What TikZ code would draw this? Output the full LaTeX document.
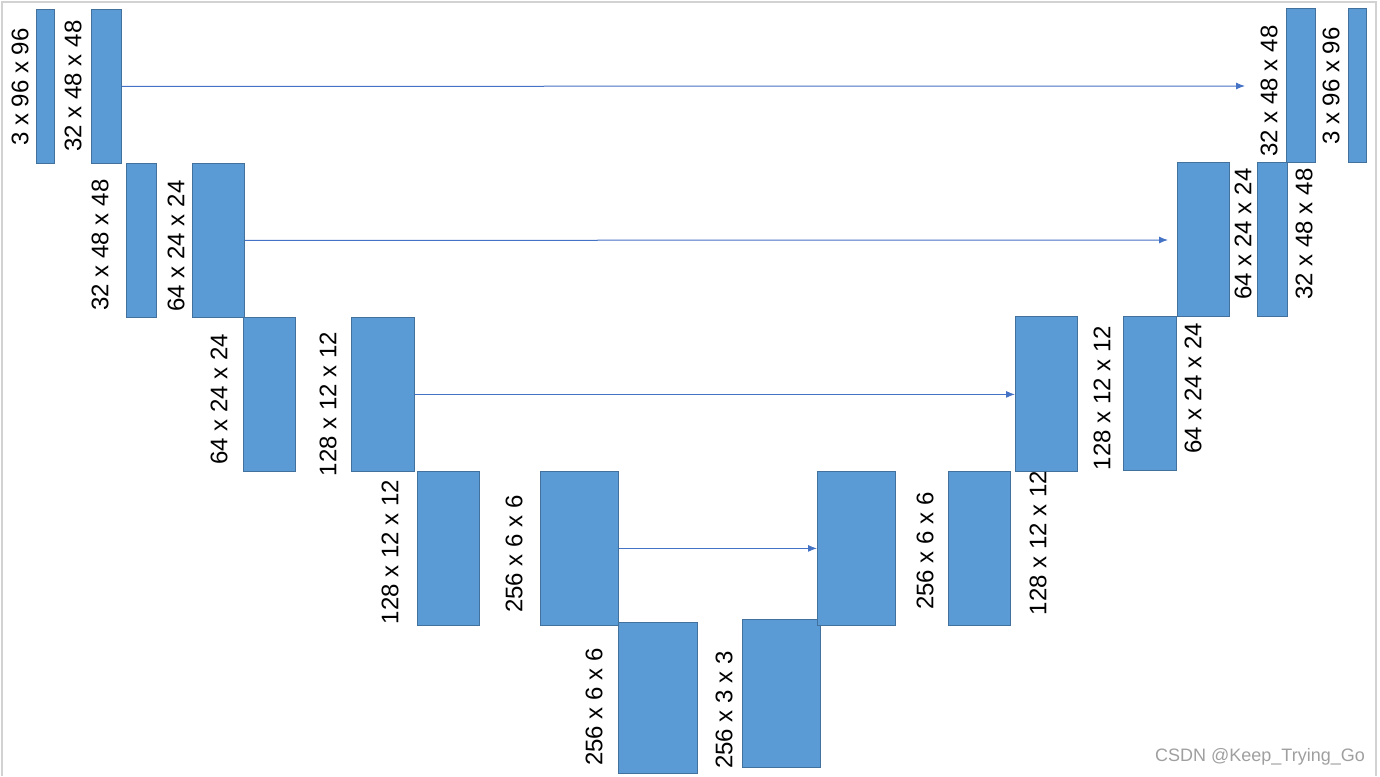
\documentclass[tikz,border=0pt]{standalone}
\usepackage{fontspec}
\setmainfont{Liberation Sans}
\usetikzlibrary{arrows.meta}
\definecolor{mapfill}{HTML}{5B9BD5}
\definecolor{mapedge}{HTML}{41719C}
\definecolor{skipline}{HTML}{4472C4}

\begin{document}
\begin{tikzpicture}[
    % one unit is one pixel of the picture, y grows downwards
    x=1pt, y=-1pt,
    fmap/.style={draw=mapedge, fill=mapfill, line width=0.8pt, inner sep=0pt, anchor=north west},
    dim/.style={rotate=90, inner sep=0pt, font=\fontsize{24}{28}\selectfont},
    skip/.style={draw=skipline, line width=1pt, -{Latex[length=9pt,width=7pt]}}
]
  \useasboundingbox (0,0) rectangle (1380,776);

  % page frame
  \draw[gray!35, line width=1.5pt] (2,776) -- (2,2) -- (1376,2) -- (1376,776);

  % Encoder path
  \node[fmap, minimum width=18pt, minimum height=154pt] (inp) at (36,9) {};
  \node[fmap, minimum width=30pt, minimum height=154pt] (enc1) at (91,9) {};
  \node[fmap, minimum width=30pt, minimum height=154pt] (pool1) at (126,163) {};
  \node[fmap, minimum width=52pt, minimum height=154pt] (enc2) at (192,163) {};
  \node[fmap, minimum width=52pt, minimum height=154pt] (pool2) at (243,317) {};
  \node[fmap, minimum width=63pt, minimum height=154pt] (enc3) at (351,317) {};
  \node[fmap, minimum width=62pt, minimum height=154pt] (pool3) at (417,471) {};
  \node[fmap, minimum width=78pt, minimum height=154pt] (enc4) at (540,471) {};
  \node[fmap, minimum width=79pt, minimum height=151pt] (pool4) at (618,622) {};

  % Bottleneck
  \node[fmap, minimum width=78pt, minimum height=148pt] (bott) at (742,619) {};

  % Decoder path
  \node[fmap, minimum width=78pt, minimum height=154pt] (up4) at (817,471) {};
  \node[fmap, minimum width=62pt, minimum height=154pt] (dec4) at (948,471) {};
  \node[fmap, minimum width=62pt, minimum height=155pt] (up3) at (1015,316) {};
  \node[fmap, minimum width=53pt, minimum height=154pt] (dec3) at (1123,316) {};
  \node[fmap, minimum width=52pt, minimum height=154pt] (up2) at (1177,162) {};
  \node[fmap, minimum width=30pt, minimum height=154pt] (dec2) at (1257,162) {};
  \node[fmap, minimum width=29pt, minimum height=154pt] (up1) at (1286,8) {};
  \node[fmap, minimum width=18pt, minimum height=154pt] (out) at (1348,8) {};

  % Sizes of the feature maps
  \node[dim] (t-inp) at (20,87) {3 x 96 x 96};
  \node[dim] (t-enc1) at (73,86) {32 x 48 x 48};
  \node[dim] (t-pool1) at (100,245) {32 x 48 x 48};
  \node[dim] (t-enc2) at (176,246) {64 x 24 x 24};
  \node[dim] (t-pool2) at (219,399) {64 x 24 x 24};
  \node[dim] (t-enc3) at (328,404) {128 x 12 x 12};
  \node[dim] (t-pool3) at (390,552) {128 x 12 x 12};
  \node[dim] (t-enc4) at (514,554) {256 x 6 x 6};
  \node[dim] (t-pool4) at (594,707) {256 x 6 x 6};
  \node[dim] (t-bott) at (724,710) {256 x 3 x 3};
  \node[dim] (t-up4) at (925,551) {256 x 6 x 6};
  \node[dim] (t-dec4) at (1038,543) {128 x 12 x 12};
  \node[dim] (t-up3) at (1102,398) {128 x 12 x 12};
  \node[dim] (t-dec3) at (1193,388) {64 x 24 x 24};
  \node[dim] (t-up2) at (1243,234) {64 x 24 x 24};
  \node[dim] (t-dec2) at (1304,234) {32 x 48 x 48};
  \node[dim] (t-up1) at (1269,91) {32 x 48 x 48};
  \node[dim] (t-out) at (1331,86) {3 x 96 x 96};

  % Skip connections
  \coordinate (end1) at (1245,86);
  \coordinate (end2) at (1168,240);
  \draw[skip] (enc1.east) -- (end1);
  \draw[skip] (enc2.east) -- (end2);
  \draw[skip] (enc3.east) -- (enc3.east -| up3.west);
  \draw[skip] (enc4.east) -- (up4.west);

  % watermark
  \node[font=\fontsize{18}{20}\selectfont, text=gray!75] (mark) at (1260,757) {CSDN @Keep\_Trying\_Go};

\end{tikzpicture}
\end{document}
